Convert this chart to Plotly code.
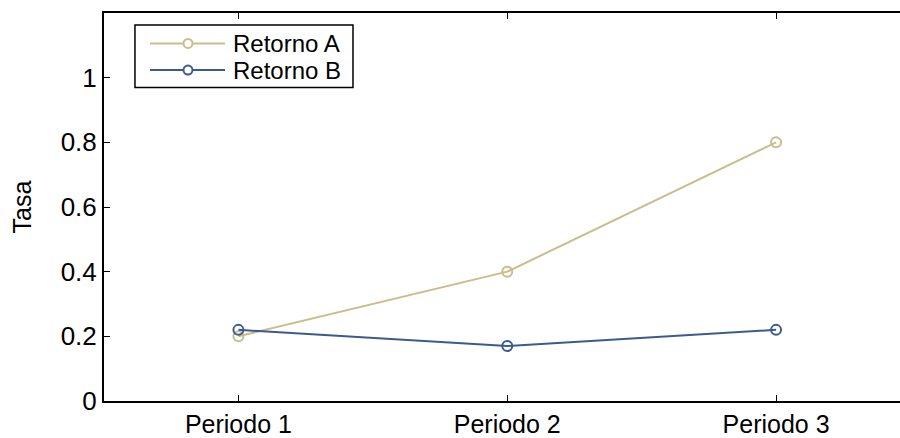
import plotly.graph_objects as go

categories = ["Periodo 1", "Periodo 2", "Periodo 3"]
retorno_a = [0.2, 0.4, 0.8]
retorno_b = [0.22, 0.17, 0.22]
y_ticks = [0, 0.2, 0.4, 0.6, 0.8, 1]
y_tick_labels = ["0", "0.2", "0.4", "0.6", "0.8", "1"]

series = [
    ("Retorno A", retorno_a, "#cbbc8b"),
    ("Retorno B", retorno_b, "#3b5a8e"),
]

fig = go.Figure()
for name, vals, col in series:
    fig.add_trace(go.Scatter(
        x=[0, 1, 2], y=vals, name=name, mode="lines+markers",
        line=dict(color=col, width=2),
        marker=dict(symbol="circle-open", size=10, color=col, line=dict(width=2, color=col)),
        showlegend=False,
    ))

# legend box drawn in plot-area (paper) coordinates
fig.add_shape(type="rect", xref="paper", yref="paper",
              x0=0.0389, x1=0.3128, y0=0.8077, y1=0.9692,
              line=dict(color="black", width=1.5), fillcolor="white", layer="above")
row_y = [0.9215, 0.8530]
for (name, vals, col), ry in zip(series, row_y):
    fig.add_shape(type="line", xref="paper", yref="paper",
                  x0=0.0578, x1=0.1520, y0=ry, y1=ry,
                  line=dict(color=col, width=2), layer="above")
    fig.add_shape(type="circle", xref="paper", yref="paper",
                  xsizemode="pixel", ysizemode="pixel",
                  xanchor=0.1055, yanchor=ry, x0=-4.5, x1=4.5, y0=-4.5, y1=4.5,
                  line=dict(color=col, width=2), fillcolor="white", layer="above")
    fig.add_annotation(xref="paper", yref="paper", x=0.1595, y=ry,
                       xanchor="left", yanchor="middle", text=name, showarrow=False,
                       font=dict(size=24, color="black"))

fig.update_layout(
    width=900, height=438,
    margin=dict(l=104, r=0, t=13, b=35, pad=0),
    paper_bgcolor="white", plot_bgcolor="white",
    font=dict(family="Liberation Sans, Arial, sans-serif", size=25, color="black"),
    showlegend=False,
)
fig.update_xaxes(
    range=[-0.5, 2.461], tickmode="array", tickvals=[0, 1, 2], ticktext=categories,
    showline=True, linecolor="black", linewidth=2, mirror="ticks",
    ticks="inside", ticklen=6, tickcolor="black", tickwidth=1,
    showgrid=False, zeroline=False, tickfont=dict(size=25),
)
fig.update_yaxes(
    range=[0, 1.2], tickmode="array", tickvals=y_ticks, ticktext=y_tick_labels,
    showline=True, linecolor="black", linewidth=2, mirror=False,
    ticks="inside", ticklen=6, tickcolor="black", tickwidth=1,
    showgrid=False, zeroline=False, tickfont=dict(size=26),
    title=dict(text="Tasa", font=dict(size=25), standoff=22),
)

fig.write_html("out.html", config={"displayModeBar": False},
               post_script="document.body.style.margin='0';")
